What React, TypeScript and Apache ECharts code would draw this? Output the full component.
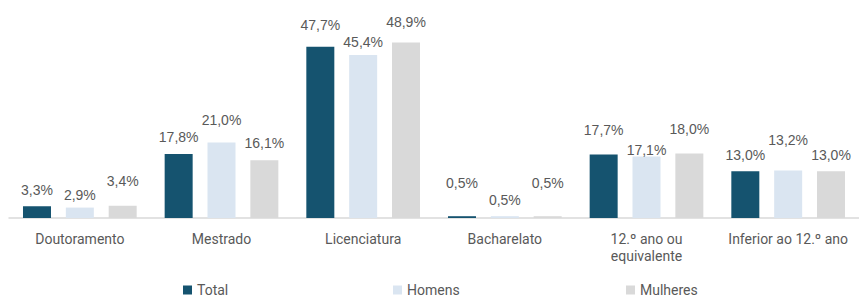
import React, { useEffect, useRef } from "react";
import * as echarts from "echarts";

const categories = [
  "Doutoramento",
  "Mestrado",
  "Licenciatura",
  "Bacharelato",
  "12.º ano ou\nequivalente",
  "Inferior ao 12.º ano",
];
const seriesNames = ["Total", "Homens", "Mulheres"];
const totalValues = [3.3, 17.8, 47.7, 0.5, 17.7, 13.0];
const homensValues = [2.9, 21.0, 45.4, 0.5, 17.1, 13.2];
const mulheresValues = [3.4, 16.1, 48.9, 0.5, 18.0, 13.0];

// label lift above bar top (px, label centre), as placed in the original
const totalLabelLift = [17, 18, 23, 34, 25, 17];
const homensLabelLift = [14, 24, 14, 17, 8, 32];
const mulheresLabelLift = [26, 18, 21, 34, 25, 17];

const colors = ["#15536f", "#dae5f1", "#d9d9d9"];
const legendLefts = [183, 393, 626];

function fmt(v: number) {
  return v.toFixed(1).replace(".", ",") + "%";
}

export default function App() {
  const ref = useRef<HTMLDivElement>(null);
  useEffect(() => {
    if (!ref.current) return;
    const chart = echarts.init(ref.current, undefined, { renderer: "svg" });
    const valuesList = [totalValues, homensValues, mulheresValues];
    const liftList = [totalLabelLift, homensLabelLift, mulheresLabelLift];
    chart.setOption({
      animation: false,
      grid: { left: 9, right: -8, top: 38.5, bottom: 81, containLabel: false },
      legend: seriesNames.map((name, i) => ({
        data: [name],
        left: legendLefts[i],
        top: 283,
        padding: 0,
        itemWidth: 9,
        itemHeight: 9,
        icon: "rect",
        textStyle: {
          color: "#595959",
          fontSize: 14,
          lineHeight: 14,
          fontFamily: "Roboto",
        },
      })),
      xAxis: {
        type: "category",
        data: categories,
        axisLine: { lineStyle: { color: "#d9d9d9", width: 1.5 } },
        axisTick: { show: false },
        axisLabel: {
          color: "#595959",
          fontSize: 14,
          fontFamily: "Roboto",
          lineHeight: 17,
          margin: 12,
          interval: 0,
        },
      },
      yAxis: {
        type: "value",
        min: 0,
        max: 50,
        show: false,
        splitLine: { show: false },
      },
      series: seriesNames.map((name, si) => ({
        name,
        type: "bar",
        barWidth: 28,
        barGap: "53%",
        itemStyle: { color: colors[si] },
        label: {
          show: true,
          position: "top",
          color: "#595959",
          fontSize: 14,
          fontFamily: "Liberation Sans",
          formatter: (p: any) => fmt(p.value),
        },
        data: valuesList[si].map((v, i) => ({
          value: v,
          label: { distance: Math.max(0, liftList[si][i] - 8) },
        })),
      })),
    });
    return () => chart.dispose();
  }, []);
  return (
    <div
      ref={ref}
      style={{ position: "absolute", left: 0, top: 0, width: 859, height: 299 }}
    />
  );
}
